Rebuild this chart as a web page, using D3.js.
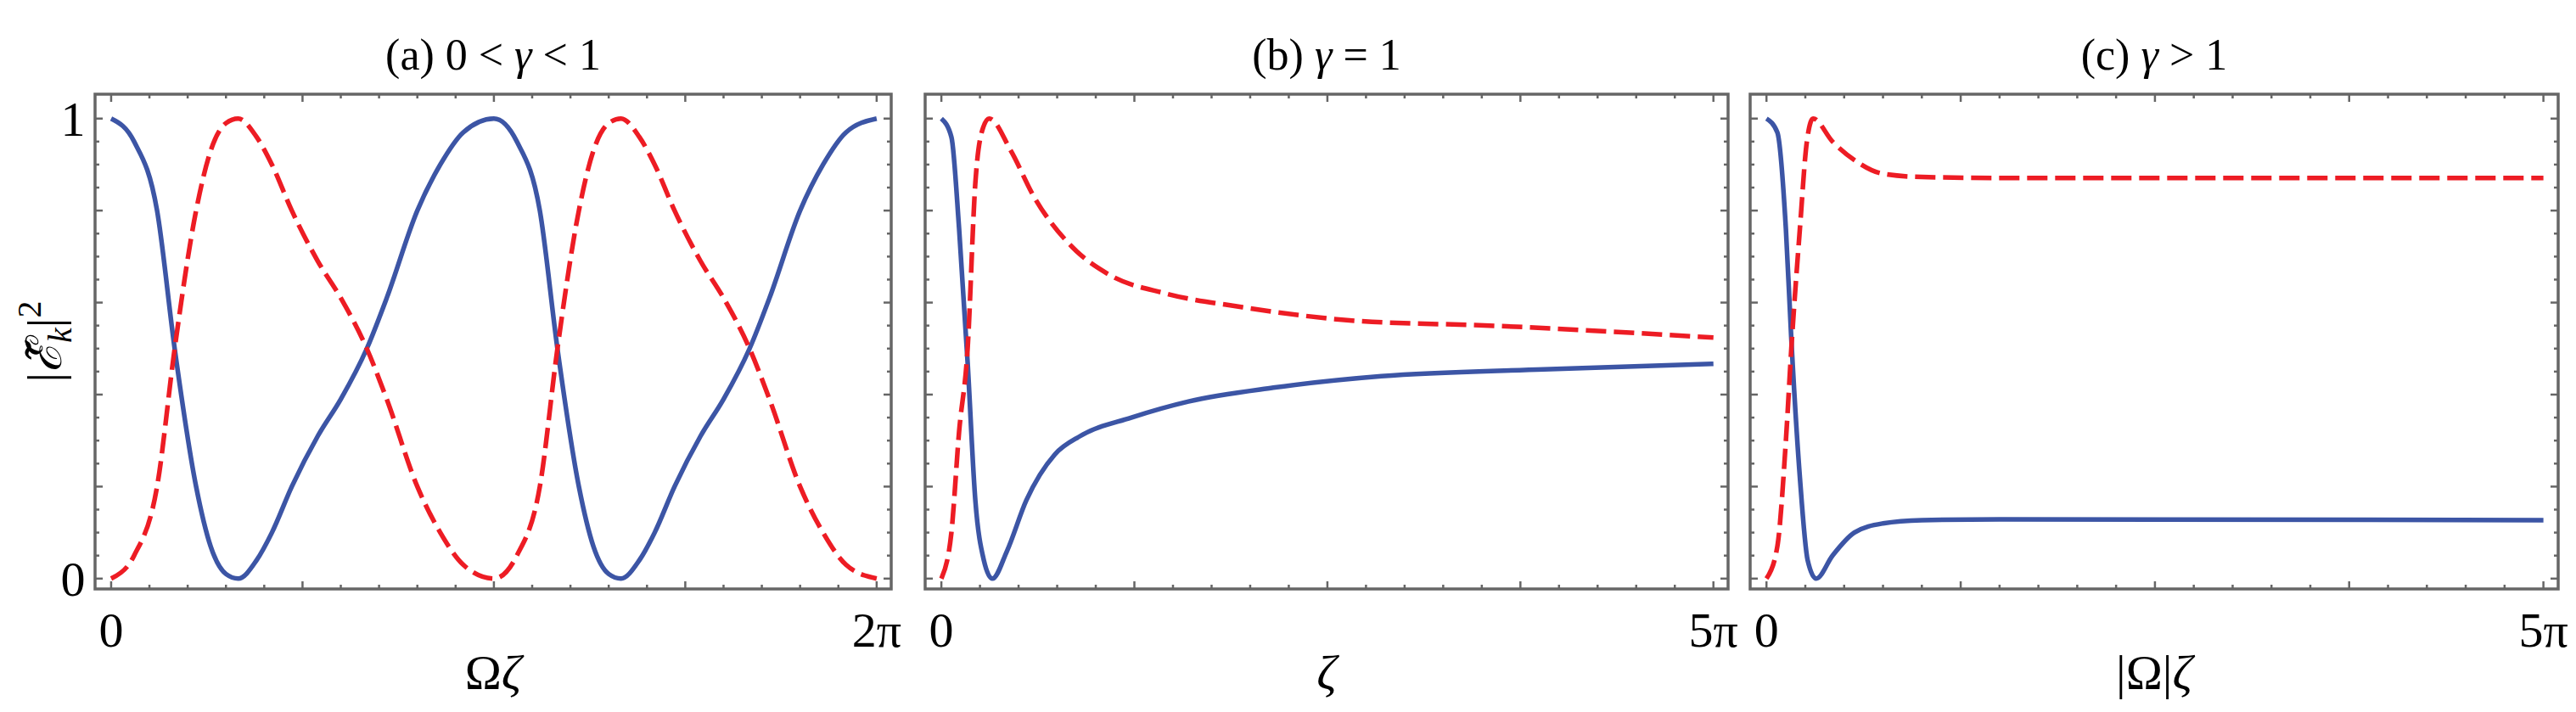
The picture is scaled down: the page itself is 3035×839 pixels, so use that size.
<!DOCTYPE html>
<html><head><meta charset="utf-8">
<script src="https://cdn.jsdelivr.net/npm/d3@7"></script>
<style>body{margin:0;background:#fff}</style></head>
<body><svg id="c" width="3035" height="839"></svg>
<script>
// x values as fraction of the panel's x range (0 → end label)
const aX = [0,0.03,0.06,0.083,0.111,0.13,0.15,0.166,0.19,0.21,0.236,0.27,0.30,0.334,0.36,0.40,0.43,0.46,0.5,0.53,0.56,0.583,0.611,0.63,0.65,0.666,0.69,0.71,0.736,0.77,0.80,0.834,0.86,0.90,0.93,0.96,1];
const aBlue = [1,0.95,0.8,0.5,0.2,0.07,0.01,0,0.04,0.1,0.2,0.31,0.39,0.5,0.61,0.8,0.9,0.97,1,0.95,0.8,0.5,0.2,0.07,0.01,0,0.04,0.1,0.2,0.31,0.39,0.5,0.61,0.8,0.9,0.97,1];
const aRed  = [0,0.05,0.2,0.5,0.8,0.93,0.99,1,0.96,0.9,0.8,0.69,0.61,0.5,0.39,0.2,0.1,0.03,0,0.05,0.2,0.5,0.8,0.93,0.99,1,0.96,0.9,0.8,0.69,0.61,0.5,0.39,0.2,0.1,0.03,0];
const bBlueX = [0,0.013,0.023,0.034,0.044,0.055,0.066,0.085,0.11,0.147,0.18,0.246,0.32,0.43,0.57,0.78,1];
const bBlue  = [1,0.96,0.76,0.47,0.17,0.04,0,0.06,0.17,0.27,0.31,0.35,0.385,0.415,0.44,0.455,0.467];
const bRedX = [0,0.013,0.023,0.034,0.044,0.054,0.062,0.09,0.12,0.17,0.218,0.29,0.39,0.54,0.71,1];
const bRed  = [0,0.1,0.32,0.5,0.86,0.98,1,0.93,0.83,0.72,0.66,0.62,0.59,0.56,0.55,0.524];
const cBlueX = [0,0.014,0.025,0.032,0.043,0.053,0.064,0.085,0.113,0.15,0.2,0.3,1];
const cBlue  = [1,0.97,0.76,0.52,0.22,0.04,0,0.05,0.1,0.12,0.127,0.129,0.127];
const cRedX = [0,0.014,0.025,0.032,0.043,0.052,0.06,0.085,0.113,0.15,0.2,0.3,1];
const cRed  = [0,0.07,0.3,0.5,0.76,0.95,1,0.95,0.91,0.88,0.873,0.871,0.871];
const xEndLabels = ["2π","5π","5π"];
const yTickLabels = ["0","1"];

const panels = [
  {x0:112,x1:1050,title:["(a)  0 < ","γ"," < 1"],xl:[["Ω",false],["ζ",true]],end:xEndLabels[0],
   blue:[aX,aBlue],red:[aX,aRed],labels:true},
  {x0:1090,x1:2036,title:["(b)  ","γ"," = 1"],xl:[["ζ",true]],end:xEndLabels[1],
   blue:[bBlueX,bBlue],red:[bRedX,bRed]},
  {x0:2062,x1:3014,title:["(c)  ","γ"," > 1"],xl:[["|Ω|",false],["ζ",true]],end:xEndLabels[2],
   blue:[cBlueX,cBlue],red:[cRedX,cRed]}
];
const yTop=111,yBot=694;
const svg=d3.select("#c");
const font="'Liberation Serif','DejaVu Serif',serif";
const blueC="#3c55a5", redC="#ed1c24", grey="#666";
panels.forEach(p=>{
  const x=d3.scaleLinear().domain([-0.021,1.019]).range([p.x0,p.x1]);
  const y=d3.scaleLinear().domain([-0.0225,1.053]).range([yBot,yTop]);
  const g=svg.append("g");
  const xt=d3.range(0,21).map(i=>i/20), yt=d3.range(0,21).map(i=>i/20);
  xt.forEach((v,i)=>{const L=i%5==0?9:5;
    g.append("line").attr("x1",x(v)).attr("x2",x(v)).attr("y1",yBot).attr("y2",yBot-L).attr("stroke",grey).attr("stroke-width",2.5);
    g.append("line").attr("x1",x(v)).attr("x2",x(v)).attr("y1",yTop).attr("y2",yTop+L).attr("stroke",grey).attr("stroke-width",2.5);});
  yt.forEach((v,i)=>{const L=i%4==0?9:5;
    g.append("line").attr("y1",y(v)).attr("y2",y(v)).attr("x1",p.x0).attr("x2",p.x0+L).attr("stroke",grey).attr("stroke-width",2.5);
    g.append("line").attr("y1",y(v)).attr("y2",y(v)).attr("x1",p.x1).attr("x2",p.x1-L).attr("stroke",grey).attr("stroke-width",2.5);});
  g.append("rect").attr("x",p.x0).attr("y",yTop).attr("width",p.x1-p.x0).attr("height",yBot-yTop)
    .attr("fill","none").attr("stroke",grey).attr("stroke-width",3.5);
  const line=d3.line().curve(d3.curveMonotoneX);
  const mk=(arr)=>arr[0].map((v,i)=>[x(v),y(arr[1][i])]);
  g.append("path").attr("d",line(mk(p.blue))).attr("fill","none").attr("stroke",blueC).attr("stroke-width",5.5);
  g.append("path").attr("d",line(mk(p.red))).attr("fill","none").attr("stroke",redC).attr("stroke-width",5.5).attr("stroke-dasharray","24,9");
  const tx=(t,xx,yy,size,anchor)=>g.append("text").attr("x",xx).attr("y",yy).attr("font-family",font).attr("font-size",size).attr("text-anchor",anchor||"middle").text(t);
  tx("0",x(0),762,58); tx(p.end,x(1),762,58);
  const t=g.append("text").attr("x",(p.x0+p.x1)/2).attr("y",82).attr("font-family",font).attr("font-size",52).attr("text-anchor","middle");
  p.title.forEach((s,i)=>t.append("tspan").attr("font-style",i==1?"italic":"normal").text(s));
  const xl=g.append("text").attr("x",(p.x0+p.x1)/2).attr("y",812).attr("font-family",font).attr("font-size",58).attr("text-anchor","middle");
  p.xl.forEach(s=>xl.append("tspan").attr("font-style",s[1]?"italic":"normal").text(s[0]));
  if(p.labels){
    tx(yTickLabels[0],p.x0-26,y(0)+20,58); tx(yTickLabels[1],p.x0-26,y(1)+20,58);
    const yl=g.append("text").attr("transform",`translate(72,${(yTop+yBot)/2}) rotate(-90)`).attr("font-family",font).attr("font-size",58).attr("text-anchor","middle");
    yl.append("tspan").text("|");
    yl.append("tspan").attr("font-style","italic").text("ℰ\u0303");
    yl.append("tspan").attr("font-style","italic").attr("font-size",40).attr("dy",12).text("k");
    yl.append("tspan").attr("dy",-12).text("|");
    yl.append("tspan").attr("font-size",40).attr("dy",-24).text("2");
  }
});
</script></body></html>
